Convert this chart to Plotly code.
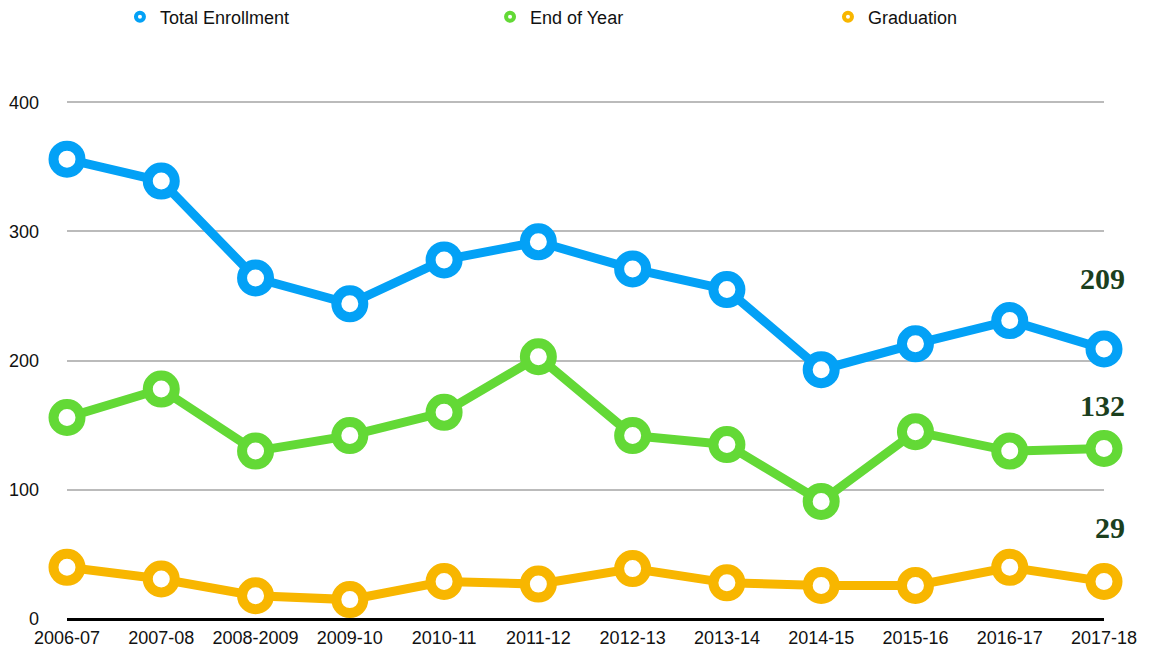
import plotly.graph_objects as go

years = ["2006-07", "2007-08", "2008-2009", "2009-10", "2010-11", "2011-12",
         "2012-13", "2013-14", "2014-15", "2015-16", "2016-17", "2017-18"]
total_enrollment = [356, 339, 264, 244, 278, 292, 271, 255, 193, 213, 231, 209]
end_of_year = [156, 178, 130, 142, 160, 203, 142, 135, 91, 145, 130, 132]
graduation = [40, 31, 18, 15, 29, 27, 39, 28, 26, 26, 40, 29]

series = [
    ("Total Enrollment", total_enrollment, "#03A1F6", "legend", 0.1044),
    ("End of Year", end_of_year, "#63D936", "legend2", 0.4265),
    ("Graduation", graduation, "#F8B600", "legend3", 0.7206),
]

fig = go.Figure()
for name, vals, color, lg, lx in series:
    fig.add_trace(go.Scatter(
        x=years, y=vals, name=name, mode="lines+markers",
        line=dict(color=color, width=9),
        marker=dict(size=27, color="white", line=dict(color=color, width=10)),
        cliponaxis=False, showlegend=False, legendgroup=name,
    ))
for name, vals, color, lg, lx in series:
    fig.add_trace(go.Scatter(
        x=[None], y=[None], name=name, mode="markers", legendgroup=name,
        marker=dict(size=8, color="white", line=dict(color=color, width=4)),
        showlegend=True, legend=lg,
    ))

ann_shift = [(total_enrollment, 71), (end_of_year, 43), (graduation, 54)]
for vals, ys in ann_shift:
    fig.add_annotation(
        x=years[-1], y=vals[-1], text=str(vals[-1]), showarrow=False,
        xanchor="right", yanchor="middle", xshift=23, yshift=ys,
        font=dict(family="Liberation Serif", size=30, color="#1B3F1E", weight="bold"),
    )

legend_common = dict(orientation="h", xanchor="left", xref="container",
                     yref="container", y=0.974, yanchor="middle",
                     font=dict(size=18), bgcolor="rgba(0,0,0,0)")
layout_legends = {}
for name, vals, color, lg, lx in series:
    layout_legends[lg] = dict(legend_common, x=lx)

fig.update_layout(
    width=1149, height=656,
    margin=dict(l=67, r=45, t=101, b=37, autoexpand=False),
    paper_bgcolor="white", plot_bgcolor="white",
    font=dict(family="Liberation Sans, Arial, sans-serif", size=18, color="#111111"),
    showlegend=True,
    xaxis=dict(type="category", range=[0, 11], showgrid=False, zeroline=False,
               showline=False, tickfont=dict(size=18), ticks="",
               ticklabelstandoff=6),
    yaxis=dict(range=[0, 401], tickvals=[0, 100, 200, 300, 400],
               showgrid=True, gridcolor="#BBBBBB", gridwidth=2,
               zeroline=True, zerolinecolor="#000000", zerolinewidth=3,
               showline=False, ticks="", ticklabelstandoff=27,
               tickfont=dict(size=18)),
    **layout_legends,
)

fig.write_html("out.html", config={"displayModeBar": False})

with open("out.html", "r", encoding="utf-8") as f:
    html = f.read()
html = html.replace("<head>", "<head><style>html,body{margin:0;padding:0;overflow:hidden;}</style>", 1)
with open("out.html", "w", encoding="utf-8") as f:
    f.write(html)
